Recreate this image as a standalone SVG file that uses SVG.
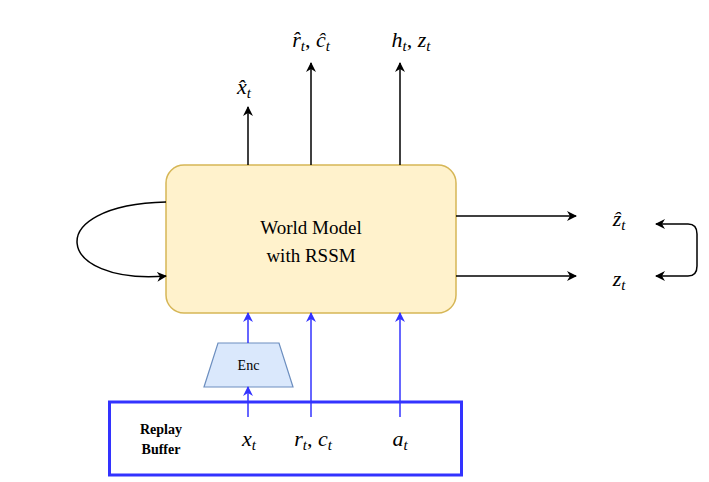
<svg xmlns="http://www.w3.org/2000/svg" width="709" height="482" viewBox="0 0 709 482">
<defs>
<marker id="ab" viewBox="0 0 10 10" refX="9" refY="5" markerWidth="10" markerHeight="10" markerUnits="userSpaceOnUse" orient="auto"><path d="M0,0 L10,5 L0,10 L3,5 Z" fill="#000"/></marker>
<marker id="abl" viewBox="0 0 10 10" refX="9" refY="5" markerWidth="10" markerHeight="10" markerUnits="userSpaceOnUse" orient="auto"><path d="M0,0 L10,5 L0,10 L3,5 Z" fill="#3333ff"/></marker>
<marker id="abs" viewBox="0 0 10 10" refX="1" refY="5" markerWidth="10" markerHeight="10" markerUnits="userSpaceOnUse" orient="auto"><path d="M10,0 L0,5 L10,10 L7,5 Z" fill="#000"/></marker>
</defs>
<style>
.m{font-family:"Liberation Serif","Times New Roman",serif;font-style:italic;font-size:22px;fill:#000}
.s{font-size:15px}
.t{font-family:"Liberation Serif","Times New Roman",serif;font-size:19px}
.b{font-family:"Liberation Serif","Times New Roman",serif;font-size:14px;font-weight:bold}
.blk{stroke:#000;stroke-width:1.5;fill:none}
.blu{stroke:#3333ff;stroke-width:1.5;fill:none}
</style>
<rect width="709" height="482" fill="#fff"/>
<g id="world-model">
<rect x="166" y="165" width="290" height="148" rx="18" fill="#fff2cc" stroke="#d6b656" stroke-width="1.5"/>
<text class="t" x="311" y="234" text-anchor="middle">World Model</text>
<text class="t" x="311" y="262" text-anchor="middle">with RSSM</text>
</g>
<g id="encoder">
<path d="M218,343 L279,343 L293,387 L204,387 Z" fill="#dae8fc" stroke="#6c8ebf" stroke-width="1.2"/>
<text x="248.5" y="370" text-anchor="middle" font-family="Liberation Serif, Times New Roman, serif" font-size="14">Enc</text>
</g>
<g id="replay-buffer">
<rect x="109.5" y="402" width="352" height="73" fill="none" stroke="#3333ff" stroke-width="3"/>
<text class="b" x="161" y="434" text-anchor="middle">Replay</text>
<text class="b" x="161" y="454" text-anchor="middle">Buffer</text>
<text class="m" x="249" y="446" text-anchor="middle">x<tspan class="s" dy="4">t</tspan></text>
<text class="m" x="313" y="446" text-anchor="middle">r<tspan class="s" dy="4">t</tspan><tspan dy="-4" font-style="normal">, </tspan>c<tspan class="s" dy="4">t</tspan></text>
<text class="m" x="400" y="446" text-anchor="middle">a<tspan class="s" dy="4">t</tspan></text>
</g>
<g id="labels">
<text class="m" x="244" y="94" text-anchor="middle">x̂<tspan class="s" dy="4">t</tspan></text>
<text class="m" x="311" y="47" text-anchor="middle">r̂<tspan class="s" dy="4">t</tspan><tspan dy="-4" font-style="normal">, </tspan>ĉ<tspan class="s" dy="4">t</tspan></text>
<text class="m" x="411" y="47" text-anchor="middle">h<tspan class="s" dy="4">t</tspan><tspan dy="-4" font-style="normal">, </tspan>z<tspan class="s" dy="4">t</tspan></text>
<text class="m" x="619" y="226" text-anchor="middle">ẑ<tspan class="s" dy="4">t</tspan></text>
<text class="m" x="619" y="286" text-anchor="middle">z<tspan class="s" dy="4">t</tspan></text>
</g>
<g id="connectors">
<path class="blk" d="M248,165 V107" marker-end="url(#ab)"/>
<path class="blk" d="M311,165 V63" marker-end="url(#ab)"/>
<path class="blk" d="M400,165 V63" marker-end="url(#ab)"/>
<path class="blk" d="M166,202 C40,205 55,285 166,276" marker-end="url(#ab)"/>
<path class="blk" d="M456,216 H576" marker-end="url(#ab)"/>
<path class="blk" d="M456,276 H576" marker-end="url(#ab)"/>
<path class="blk" d="M656,224 H688 Q697,224 697,234 V266 Q697,276 688,276 H656" marker-start="url(#abs)" marker-end="url(#ab)"/>
<path class="blu" d="M248,417 V387" marker-end="url(#abl)"/>
<path class="blu" d="M248,343 V313" marker-end="url(#abl)"/>
<path class="blu" d="M311,417 V313" marker-end="url(#abl)"/>
<path class="blu" d="M400,417 V313" marker-end="url(#abl)"/>
</g>
</svg>
